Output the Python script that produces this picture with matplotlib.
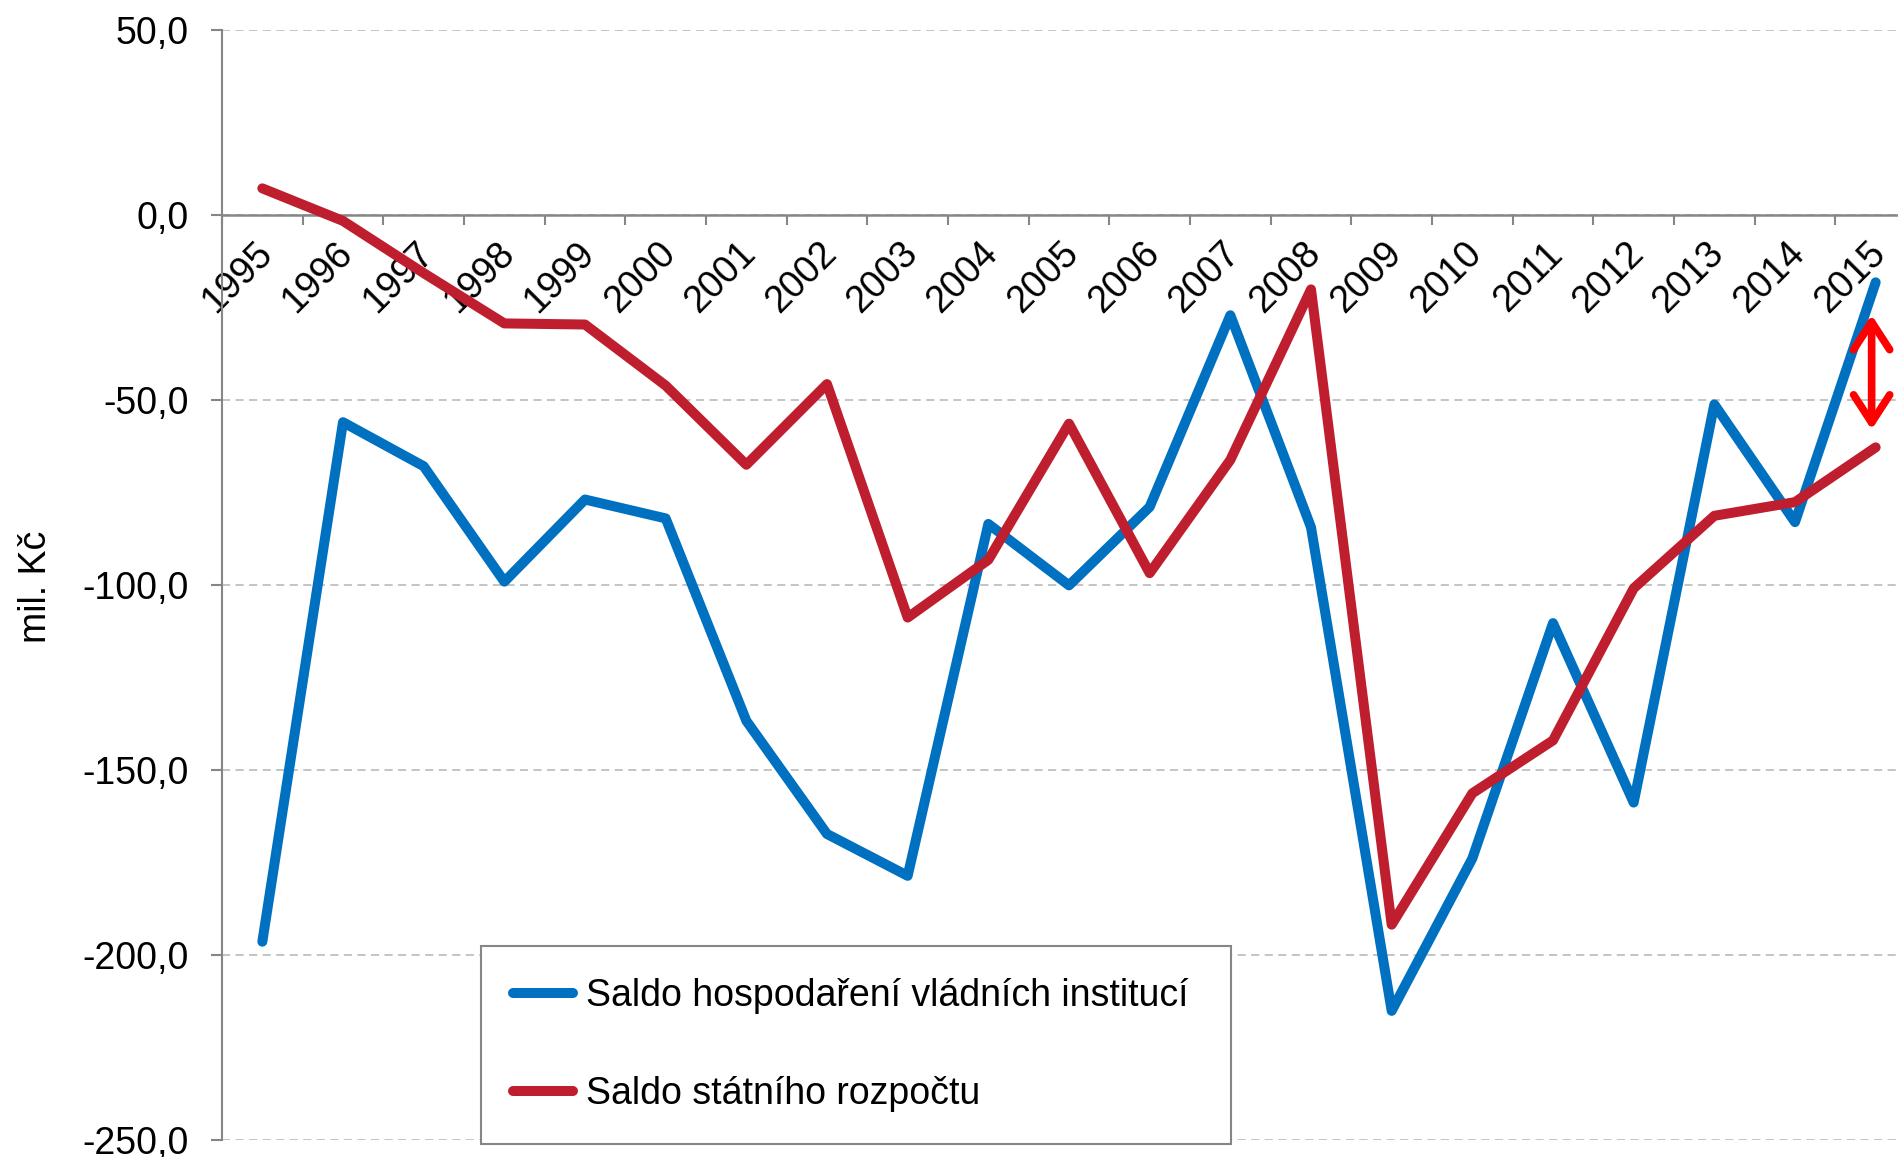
import numpy as np
import matplotlib
matplotlib.use('Agg')
import matplotlib.pyplot as plt
from matplotlib.patches import FancyArrowPatch
from matplotlib.transforms import ScaledTranslation

plt.rcParams['font.family'] = ['Liberation Sans', 'DejaVu Sans']

# data
years = [str(y) for y in range(1995, 2016)]
saldo_vladni = [-196.4, -56.0, -67.9, -99.1, -76.9, -82.0, -136.7, -167.3, -178.6,
                -83.5, -100.1, -78.9, -27.1, -84.4, -215.1, -173.9, -110.3, -158.8,
                -51.2, -83.0, -18.2]
saldo_rozpocet = [7.2, -1.6, -15.7, -29.3, -29.6, -46.1, -67.5, -45.7, -108.8,
                  -93.2, -56.4, -96.8, -66.2, -20.1, -191.8, -156.3, -142.0, -100.9,
                  -81.3, -77.6, -62.8]
y_ticks = [50, 0, -50, -100, -150, -200, -250]
legend_labels = ['Saldo hospodaření vládních institucí', 'Saldo státního rozpočtu']

W, H = 1899, 1157
fs = 27
fig = plt.figure(figsize=(W / 100, H / 100), dpi=100)
ax = fig.add_axes([222 / W, 17 / H, 1694 / W, 1110 / H])

x = np.arange(len(years))
ax.plot(x, saldo_vladni, color='#0070C0', lw=7.2, solid_capstyle='round',
        solid_joinstyle='round', label=legend_labels[0], zorder=3)
ax.plot(x, saldo_rozpocet, color='#BE1E2D', lw=7.2, solid_capstyle='round',
        solid_joinstyle='round', label=legend_labels[1], zorder=4)

ax.set_xlim(-0.5, len(years) - 0.5)
ax.set_ylim(-250, 50)

# osy
gray = '#868686'
for s in ['top', 'right']:
    ax.spines[s].set_visible(False)
ax.spines['left'].set_color(gray)
ax.spines['left'].set_linewidth(1.5)
ax.spines['bottom'].set_position(('data', 0))
ax.spines['bottom'].set_color(gray)
ax.spines['bottom'].set_linewidth(1.8)
ax.spines['bottom'].set_zorder(2.5)

ax.set_yticks(y_ticks)
ax.set_yticklabels([f'{v:.1f}'.replace('.', ',') for v in y_ticks])
ax.tick_params(axis='y', direction='out', length=8, width=1.5, color=gray,
               pad=16, labelsize=fs)
ax.yaxis.grid(True, color='#BFBFBF', lw=1.3, linestyle=(0, (4.5, 3)))
ax.set_axisbelow(True)

ax.set_xticks(x)
ax.set_xticklabels(years)
ax.set_xticks(np.arange(-0.5, len(years), 1), minor=True)
ax.tick_params(axis='x', which='major', length=0, pad=24, labelsize=fs)
ax.tick_params(axis='x', which='minor', direction='out', length=7, width=1.5, color=gray)
for lab in ax.get_xticklabels():
    lab.set_rotation(45)
    lab.set_ha('right')
    lab.set_va('center')
    lab.set_rotation_mode('anchor')
    lab.set_transform(lab.get_transform() + ScaledTranslation(3 / 72, 0, fig.dpi_scale_trans))

fig.text(36 / W, 1 - 587 / H, 'mil. Kč', rotation=90, ha='center', va='center', fontsize=fs)

# cervena sipka u roku 2015
arr = FancyArrowPatch((19.95, -27.0), (19.95, -58.0), arrowstyle='<->,head_length=2.0,head_width=1.3',
                      mutation_scale=10, color='#FF0000', lw=5.5, shrinkA=0, shrinkB=0,
                      capstyle='round', joinstyle='round', zorder=6)
ax.add_patch(arr)

leg = ax.legend(loc='upper left', bbox_to_anchor=(481 / W, 1 - 1143 / H, 750 / W, 197 / H),
                bbox_transform=fig.transFigure, mode='expand', borderaxespad=0,
                fontsize=fs, handlelength=1.6, handletextpad=0.35, borderpad=0.85,
                labelspacing=1.65, fancybox=False, framealpha=1)
leg.get_frame().set_edgecolor(gray)
leg.get_frame().set_linewidth(1.5)

fig.savefig('out.png', dpi=100)
